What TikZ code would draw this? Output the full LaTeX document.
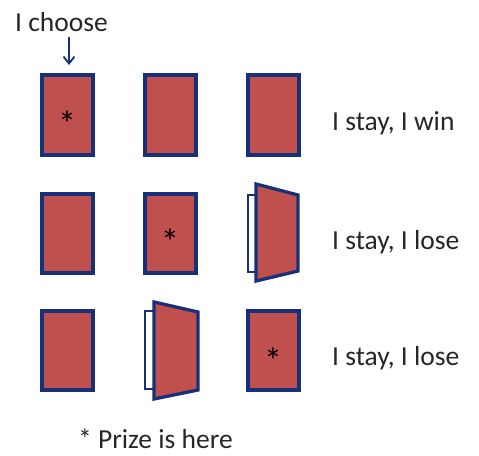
\documentclass[tikz,border=0pt]{standalone}
\usepackage{fontspec}
\setmainfont{Carlito}
\usetikzlibrary{arrows.meta}
\definecolor{doorred}{HTML}{C0504D}
\definecolor{navy}{HTML}{17307A}
\definecolor{txt}{HTML}{262626}
\begin{document}
\begin{tikzpicture}[x=1pt,y=-1pt,
  door/.style={draw=navy,fill=doorred,line width=3.3pt,line join=miter},
  frame/.style={draw=navy,fill=white,line width=2.8pt},
  lbl/.style={anchor=base west,inner sep=0pt,text=txt,font=\fontsize{27.5}{30}\selectfont},
  star/.style={anchor=base,inner sep=0pt,font=\fontsize{36}{38}\selectfont}]
\useasboundingbox (0,0) rectangle (479,455);
% row 1
\draw[door] (42,75) rectangle (93,155);
\draw[door] (145,75) rectangle (196,155);
\draw[door] (248,75) rectangle (299,155);
\node[star] (s1) at (67,136) {*};
% row 2
\draw[door] (42,194) rectangle (93,273);
\draw[door] (145,194) rectangle (196,273);
\node[star] (s2) at (170,254) {*};
\draw[frame] (248,195) rectangle (258,272);
\draw[door] (256,184) -- (298,195) -- (298,271) -- (256,281) -- cycle;
% row 3
\draw[door] (42,311) rectangle (93,390);
\draw[frame] (145,311) rectangle (155,389);
\draw[door] (154,302) -- (198,312) -- (198,390) -- (154,399) -- cycle;
\draw[door] (248,311) rectangle (299,390);
\node[star] (s3) at (273,373) {*};
% texts
\node[lbl] (choose) at (15,31) {I choose};
\coordinate (atop) at (69,37);
\coordinate (abot) at (69,65);
\draw[navy,line width=1.8pt,-{Straight Barb[length=7pt,width=11pt,line width=1.8pt]}] (atop) -- (abot);
\node[lbl] (l1) at (332,130) {I stay, I win};
\node[lbl] (l2) at (332,249) {I stay, I lose};
\node[lbl] (l3) at (332,365) {I stay, I lose};
\node[lbl] (prize) at (78,448) {* Prize is here};
\end{tikzpicture}
\end{document}
